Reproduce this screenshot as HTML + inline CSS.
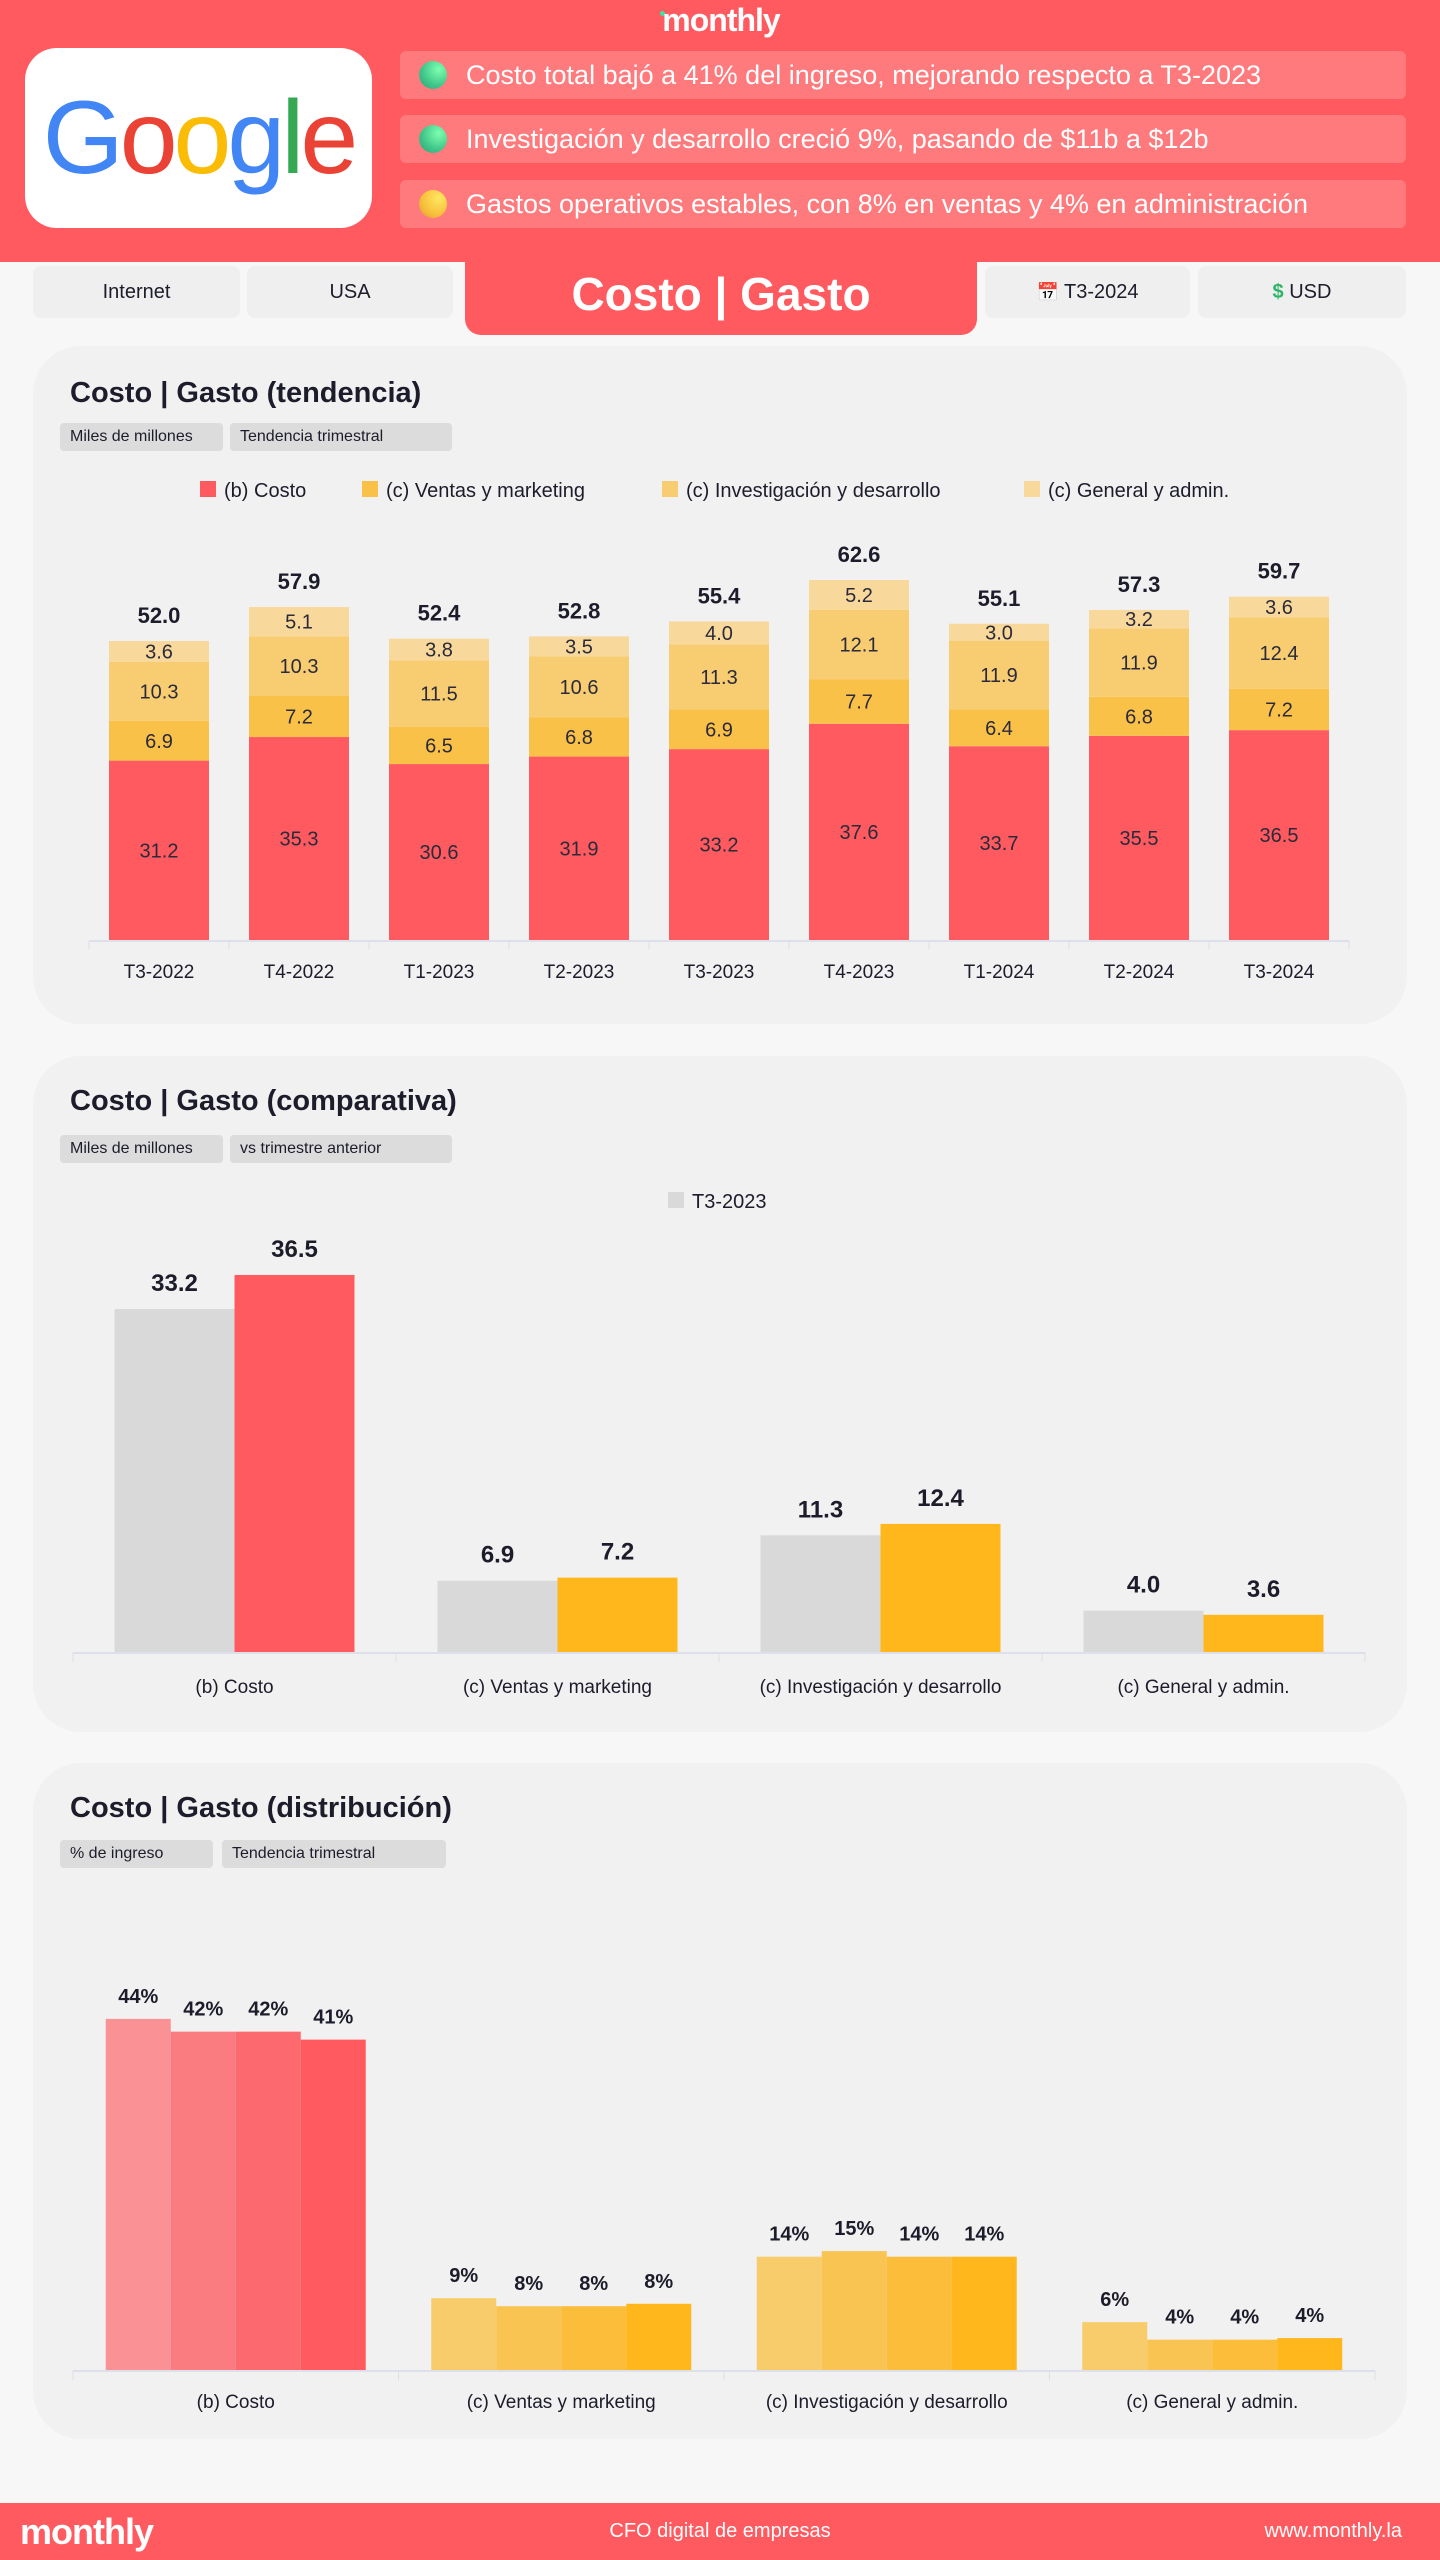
<!DOCTYPE html>
<html><head><meta charset="utf-8">
<style>
*{box-sizing:border-box;margin:0;padding:0}
body{width:1440px;height:2560px;background:#f7f7f7;font-family:"Liberation Sans",sans-serif;position:relative;overflow:hidden;color:#1c1c2b}
.abs{position:absolute}
#header{left:0;top:0;width:1440px;height:262px;background:#ff5a5f}
.logo{left:0;width:1440px;top:2px;text-align:center;color:#fff;font-weight:bold;font-size:32px;letter-spacing:-1px}
.logo .dot{display:inline-block;width:5px;height:5px;background:#3be3a0;border-radius:50%;vertical-align:top;margin-top:9px;margin-right:-3px}
#google{left:25px;top:48px;width:347px;height:180px;background:#fff;border-radius:32px;text-align:center;font-size:104px;line-height:180px;letter-spacing:-4px;font-weight:normal}
.ins{left:400px;width:1006px;height:48px;background:#ff7a7d;border-radius:6px;color:#fff;font-size:27px;line-height:48px;padding-left:66px}
.ins .b{position:absolute;left:19px;top:10px;width:28px;height:28px;border-radius:50%}
.g{background:radial-gradient(circle at 70% 30%,#7dffae,#3fc489 60%,#3a9e7a)}
.y{background:radial-gradient(circle at 70% 30%,#ffe760,#f7bf3a 60%,#d9953a)}
.tab{top:266px;height:52px;background:#efefef;border-radius:8px;text-align:center;line-height:52px;font-size:20px}
#maintab{left:465px;top:250px;width:512px;height:85px;background:#ff5a5f;border-radius:0 0 16px 16px;color:#fff;font-weight:bold;font-size:46px;text-align:center;line-height:88px}
.panel{left:33px;width:1374px;background:#f1f1f1;border-radius:48px}
.ptitle{font-size:29px;font-weight:bold;left:70px}
.chip{height:28px;background:#dcdcdc;border-radius:4px;font-size:16px;line-height:28px;padding-left:10px}
#footer{left:0;top:2503px;width:1440px;height:57px;background:#ff5a5f;color:#fff}
svg text{font-family:"Liberation Sans",sans-serif}
</style></head><body>
<div id="header" class="abs"></div>
<div class="abs logo"><span class="dot"></span>monthly</div>
<div id="google" class="abs"><span style="color:#4285f4">G</span><span style="color:#ea4335">o</span><span style="color:#fbbc05">o</span><span style="color:#4285f4">g</span><span style="color:#34a853">l</span><span style="color:#ea4335">e</span></div>
<div class="abs ins" style="top:51px"><span class="b g"></span>Costo total bajó a 41% del ingreso, mejorando respecto a T3-2023</div>
<div class="abs ins" style="top:115px"><span class="b g"></span>Investigación y desarrollo creció 9%, pasando de $11b a $12b</div>
<div class="abs ins" style="top:180px"><span class="b y"></span>Gastos operativos estables, con 8% en ventas y 4% en administración</div>
<div class="abs tab" style="left:33px;width:207px">Internet</div>
<div class="abs tab" style="left:247px;width:206px">USA</div>
<div id="maintab" class="abs">Costo | Gasto</div>
<div class="abs tab" style="left:985px;width:205px"><span style="font-size:18px">📅</span> T3-2024</div>
<div class="abs tab" style="left:1198px;width:208px"><span style="color:#2fb56a;font-weight:bold">$</span> USD</div>

<div class="abs panel" style="top:346px;height:678px"></div>
<div class="abs ptitle" style="top:377px">Costo | Gasto (tendencia)</div>
<div class="abs chip" style="left:60px;top:423px;width:163px">Miles de millones</div>
<div class="abs chip" style="left:230px;top:423px;width:222px">Tendencia trimestral</div>

<div class="abs panel" style="top:1056px;height:676px"></div>
<div class="abs ptitle" style="top:1085px">Costo | Gasto (comparativa)</div>
<div class="abs chip" style="left:60px;top:1135px;width:163px">Miles de millones</div>
<div class="abs chip" style="left:230px;top:1135px;width:222px">vs trimestre anterior</div>

<div class="abs panel" style="top:1763px;height:676px"></div>
<div class="abs ptitle" style="top:1792px">Costo | Gasto (distribución)</div>
<div class="abs chip" style="left:60px;top:1840px;width:153px">% de ingreso</div>
<div class="abs chip" style="left:222px;top:1840px;width:224px">Tendencia trimestral</div>

<div id="footer" class="abs">
<div class="abs" style="left:20px;top:8px;font-size:36px;font-weight:bold;letter-spacing:-1px">monthly</div>
<div class="abs" style="left:0;width:1440px;text-align:center;top:17px;font-size:20px">CFO digital de empresas</div>
<div class="abs" style="right:38px;top:17px;font-size:20px">www.monthly.la</div>
</div>

<svg id="charts" class="abs" style="left:0;top:0" width="1440" height="2560"></svg>
<script>
const quarters=["T3-2022","T4-2022","T1-2023","T2-2023","T3-2023","T4-2023","T1-2024","T2-2024","T3-2024"];
const costo=[31.2,35.3,30.6,31.9,33.2,37.6,33.7,35.5,36.5];
const ventas=[6.9,7.2,6.5,6.8,6.9,7.7,6.4,6.8,7.2];
const invest=[10.3,10.3,11.5,10.6,11.3,12.1,11.9,11.9,12.4];
const general=[3.6,5.1,3.8,3.5,4.0,5.2,3.0,3.2,3.6];
const totals=[52.0,57.9,52.4,52.8,55.4,62.6,55.1,57.3,59.7];
const legend1=["(b) Costo","(c) Ventas y marketing","(c) Investigación y desarrollo","(c) General y admin."];
const cats=["(b) Costo","(c) Ventas y marketing","(c) Investigación y desarrollo","(c) General y admin."];
const prevVals=[33.2,6.9,11.3,4.0];
const currVals=[36.5,7.2,12.4,3.6];
const prevLabel="T3-2023";
const distCosto=[44.0,42.4,42.4,41.4];
const distVentas=[9.0,8.0,8.0,8.3];
const distInvest=[14.2,14.9,14.2,14.2];
const distGeneral=[6.0,3.8,3.8,4.0];

const svg=document.getElementById('charts');
const NS='http://www.w3.org/2000/svg';
function mk(tag,attrs,parent){const e=document.createElementNS(NS,tag);for(const k in attrs)e.setAttribute(k,attrs[k]);(parent||svg).appendChild(e);return e;}
function txt(s,x,y,size,fill,weight,parent){const t=mk('text',{x:x,y:y,'font-size':size,fill:fill,'text-anchor':'middle','font-weight':weight||'normal'},parent);t.textContent=s;return t;}

const c1={x0:89,step:140,base:940,k:5.75,bw:100};
const xs1=i=>c1.x0+c1.step*i+c1.step/2;
const ys1=v=>c1.base-v*c1.k;
const colors1=["#ff5a5f","#fac149","#f8cd72","#f8d99b"];
const series1=[costo,ventas,invest,general];
const g1=mk('g',{});


mk('line',{x1:c1.x0,x2:c1.x0+c1.step*quarters.length,y1:c1.base+1,y2:c1.base+1,stroke:'#dde0ea','stroke-width':2},g1);
quarters.forEach((q,i)=>{
  mk('line',{x1:c1.x0+c1.step*i,x2:c1.x0+c1.step*i,y1:c1.base+1,y2:c1.base+9,stroke:'#dde0ea','stroke-width':1},g1);
  let acc=0;
  series1.forEach((s,si)=>{
    const v=s[i];
    const r=mk('rect',{x:xs1(i)-c1.bw/2,y:ys1(acc+v),width:c1.bw,height:v*c1.k,fill:colors1[si]},g1);
    
    
    txt(v.toFixed(1),xs1(i),ys1(acc+v/2)+7,20,'#2a2a3a','normal',g1);
    acc+=v;
  });
  txt(totals[i].toFixed(1),xs1(i),ys1(acc)-18,22,'#1c1c2b','bold',g1);
  txt(q,xs1(i),c1.base+38,19,'#1c1c2b','normal',g1);
});
mk('line',{x1:c1.x0+c1.step*9,x2:c1.x0+c1.step*9,y1:c1.base+1,y2:c1.base+9,stroke:'#dde0ea'},g1);
const lx=[200,362,662,1024];
legend1.forEach((l,i)=>{
  const sw=mk('rect',{x:lx[i],y:481,width:16,height:16,fill:colors1[i]},g1);
  
  
  const t=mk('text',{x:lx[i]+24,y:497,'font-size':20,fill:'#1c1c2b'},g1);t.textContent=l;
});

const c2={x0:73,step:323,base:1652,k:10.33,bw:120};
const gx2=i=>c2.x0+c2.step*i+c2.step/2;
const ys2=v=>c2.base-v*c2.k;
const curColors=["#ff5a5f","#ffb71c","#ffb71c","#ffb71c"];
const g2=mk('g',{});


mk('line',{x1:c2.x0,x2:c2.x0+c2.step*4,y1:c2.base+1,y2:c2.base+1,stroke:'#dde0ea','stroke-width':2},g2);
cats.forEach((c,i)=>{
  mk('line',{x1:c2.x0+c2.step*i,x2:c2.x0+c2.step*i,y1:c2.base,y2:c2.base+10,stroke:'#dde0ea'},g2);
  const p=mk('rect',{x:gx2(i)-c2.bw,y:ys2(prevVals[i]),width:c2.bw,height:prevVals[i]*c2.k,fill:'#d9d9d9'},g2);
  
  
  const q=mk('rect',{x:gx2(i),y:ys2(currVals[i]),width:c2.bw,height:currVals[i]*c2.k,fill:curColors[i]},g2);
  
  
  txt(prevVals[i].toFixed(1),gx2(i)-c2.bw/2,ys2(prevVals[i])-18,24,'#1c1c2b','bold',g2);
  txt(currVals[i].toFixed(1),gx2(i)+c2.bw/2,ys2(currVals[i])-18,24,'#1c1c2b','bold',g2);
  txt(c,gx2(i),c2.base+41,19,'#1c1c2b','normal',g2);
});
mk('line',{x1:c2.x0+c2.step*4,x2:c2.x0+c2.step*4,y1:c2.base,y2:c2.base+10,stroke:'#dde0ea'},g2);
const ls=mk('rect',{x:668,y:1192,width:16,height:16,fill:'#d9d9d9'},g2);


const lt=mk('text',{x:692,y:1208,'font-size':20,fill:'#1c1c2b'},g2);lt.textContent=prevLabel;

const c3={x0:73,step:325.5,base:2370,k:7.98,bw:65};
const ys3=v=>c3.base-v*c3.k;
const dist=[distCosto,distVentas,distInvest,distGeneral];
const redShades=["#f99195","#fa7b80","#fc6a6f","#ff5a5f"];
const yelShades=["#f8cc6a","#f9c452","#fbbd3a","#ffb71c"];
const g3=mk('g',{});


mk('line',{x1:c3.x0,x2:c3.x0+c3.step*4,y1:c3.base+1,y2:c3.base+1,stroke:'#dde0ea','stroke-width':2},g3);
cats.forEach((c,i)=>{
  mk('line',{x1:c3.x0+c3.step*i,x2:c3.x0+c3.step*i,y1:c3.base,y2:c3.base+10,stroke:'#dde0ea'},g3);
  const cx=c3.x0+c3.step*i+c3.step/2;
  dist[i].forEach((v,j)=>{
    const x=cx-2*c3.bw+j*c3.bw;
    const r=mk('rect',{x:x,y:ys3(v),width:c3.bw,height:v*c3.k,fill:(i==0?redShades:yelShades)[j]},g3);
    
    
    txt(Math.round(v)+'%',x+c3.bw/2,ys3(v)-16,20,'#1c1c2b','bold',g3);
  });
  txt(c,cx,c3.base+38,19,'#1c1c2b','normal',g3);
});
mk('line',{x1:c3.x0+c3.step*4,x2:c3.x0+c3.step*4,y1:c3.base,y2:c3.base+10,stroke:'#dde0ea'},g3);
</script>
</body></html>
